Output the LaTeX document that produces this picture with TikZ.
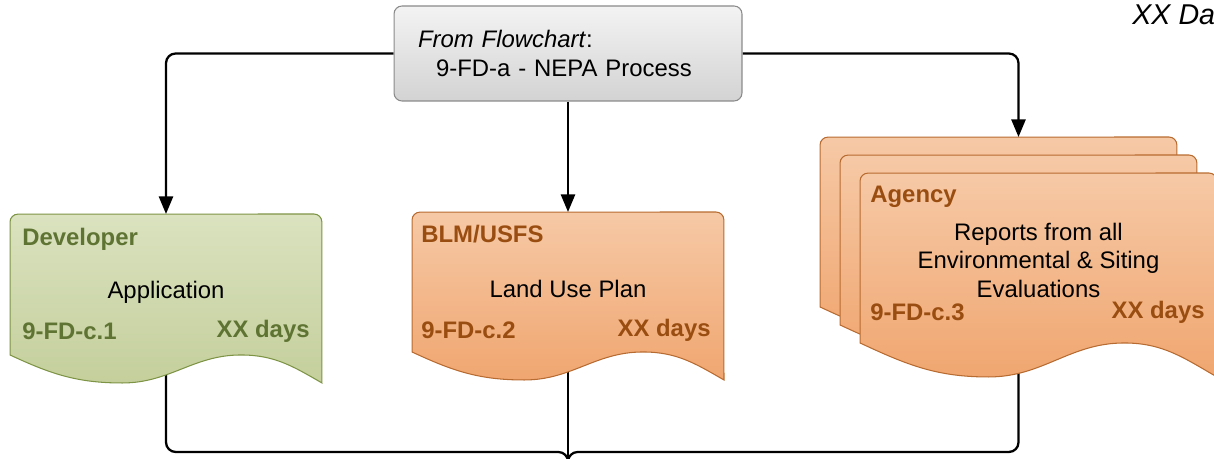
\documentclass[tikz,border=0pt]{standalone}
\usepackage{fontspec}
\setmainfont{Liberation Sans}
\usetikzlibrary{positioning,arrows.meta,calc}
\pgfdeclarelayer{lines}
\pgfdeclarelayer{docs}
\pgfsetlayers{lines,docs,main}

\definecolor{greytop}{HTML}{F3F3F3}
\definecolor{greybot}{HTML}{D3D3D3}
\definecolor{greyline}{HTML}{8A8A8A}
\definecolor{devtop}{HTML}{DAE2BF}
\definecolor{devbot}{HTML}{C4CF9C}
\definecolor{devline}{HTML}{7E9445}
\definecolor{devtext}{HTML}{5F7433}
\definecolor{agtop}{HTML}{F6C9A6}
\definecolor{agbot}{HTML}{F0A670}
\definecolor{agline}{HTML}{B86B30}
\definecolor{agtext}{HTML}{9A4D10}

\newcommand{\dfont}{\fontsize{13.6}{16.2}\selectfont}

\tikzset{
  conn/.style={line width=1.3pt, rounded corners=5.5pt},
  arr/.style={-{Triangle[length=10pt,width=8pt]}},
  docbox/.style={minimum width=#1, inner sep=0pt, outer sep=0pt},
  greendoc/.style={draw=devline, line width=0.6pt, top color=devtop, bottom color=devbot},
  orangedoc/.style={draw=agline, line width=0.6pt, top color=agtop, bottom color=agbot},
  devlbl/.style={font=\dfont\bfseries, text=devtext, inner sep=0pt},
  aglbl/.style={font=\dfont\bfseries, text=agtext, inner sep=0pt},
  body/.style={font=\dfont, align=center, inner sep=0pt},
}

% #1 node, #2 style, #3 rise of the left end
\newcommand{\docshape}[3]{
  \path[#2] ($(#1.south west)+(0,#3)$) -- ($(#1.north west)+(0,-8)$)
    arc[start angle=180, end angle=90, radius=4.5pt]
    -- ($(#1.north east)+(-8,0)$)
    arc[start angle=90, end angle=0, radius=4.5pt]
    -- (#1.south east)
    to[out=150, in=0] ($(#1.south west)!0.74!(#1.south east)+(0,#3)$)
    to[out=180, in=0] ($(#1.south west)!0.36!(#1.south east)$)
    to[out=180, in=-25] ($(#1.south west)+(0,#3)$) -- cycle;
}

\begin{document}
\begin{tikzpicture}[x=0.02cm, y=0.02cm]
  \useasboundingbox (0,0) rectangle (1214,459);

  \node[draw=greyline, line width=0.6pt, rounded corners=4.5pt, top color=greytop, bottom color=greybot,
        minimum width=6.96cm, minimum height=1.9cm, text width=6cm, inner xsep=0.48cm, align=left, font=\dfont]
    (src) at (568,405.5) {\textit{From Flowchart}:\\\hspace*{0.36cm}9-FD-a - NEPA Process};

  \node[font=\fontsize{16.3}{18}\selectfont\itshape, anchor=base west, inner sep=0pt] (dur) at (1132,434) {XX Da};

  \node[docbox=6.24cm, minimum height=3.38cm] (dev) at (166,160.5) {};
  \node[docbox=6.24cm, minimum height=3.36cm] (blm) at (568,163) {};
  \node[docbox=7.14cm, minimum height=4.08cm] (ag1) at (998.5,220) {};
  \node[docbox=7.14cm, minimum height=4.08cm] (ag2) at (1018.5,202) {};
  \node[docbox=7.14cm, minimum height=4.08cm] (ag3) at (1038.5,184) {};

  \node[devlbl, anchor=west] (devwho) at ($(dev.north west)+(12,-25)$) {Developer};
  \node[body] (devwhat) at ($(dev.north)+(0,-78)$) {Application};
  \node[devlbl, anchor=west] (devid) at ($(dev.north west)+(12,-117)$) {9-FD-c.1};
  \node[devlbl, anchor=east] (devdays) at ($(dev.north east)+(-12,-117)$) {XX days};

  \node[aglbl, anchor=west] (blmwho) at ($(blm.north west)+(9,-22)$) {BLM/USFS};
  \node[body] (blmwhat) at ($(blm.north)+(0,-77)$) {Land Use Plan};
  \node[aglbl, anchor=west] (blmid) at ($(blm.north west)+(9,-118)$) {9-FD-c.2};
  \node[aglbl, anchor=east] (blmdays) at ($(blm.north east)+(-13,-118)$) {XX days};

  \node[aglbl, anchor=west] (agwho) at ($(ag3.north west)+(10,-24)$) {Agency};
  \node[body] (agwhat) at ($(ag3.north)+(0,-87)$) {Reports from all\\Environmental \& Siting\\Evaluations};
  \node[aglbl, anchor=west] (agid) at ($(ag3.north west)+(10,-139)$) {9-FD-c.3};
  \node[aglbl, anchor=east] (agdays) at ($(ag3.north east)+(-12,-139)$) {XX days};

  \coordinate (join) at (568,7);
  \coordinate (merge) at (568,-30);

  \begin{pgfonlayer}{docs}
    \docshape{dev}{greendoc}{28}
    \docshape{blm}{orangedoc}{28}
    \docshape{ag1}{orangedoc}{34}
    \docshape{ag2}{orangedoc}{34}
    \docshape{ag3}{orangedoc}{34}
  \end{pgfonlayer}

  \begin{pgfonlayer}{lines}
    \draw[conn, arr] (src.west) -| (dev.north);
    \draw[conn, arr] (src.south) -- (blm.north);
    \draw[conn, arr] (src.east) -| (ag2.north |- ag1.north);
    \draw[conn] (dev.center) |- (join) -- (merge);
    \draw[conn] (blm.center) -- (merge);
    \draw[conn] (ag2.center) |- (join) -- (merge);
  \end{pgfonlayer}
\end{tikzpicture}
\end{document}
